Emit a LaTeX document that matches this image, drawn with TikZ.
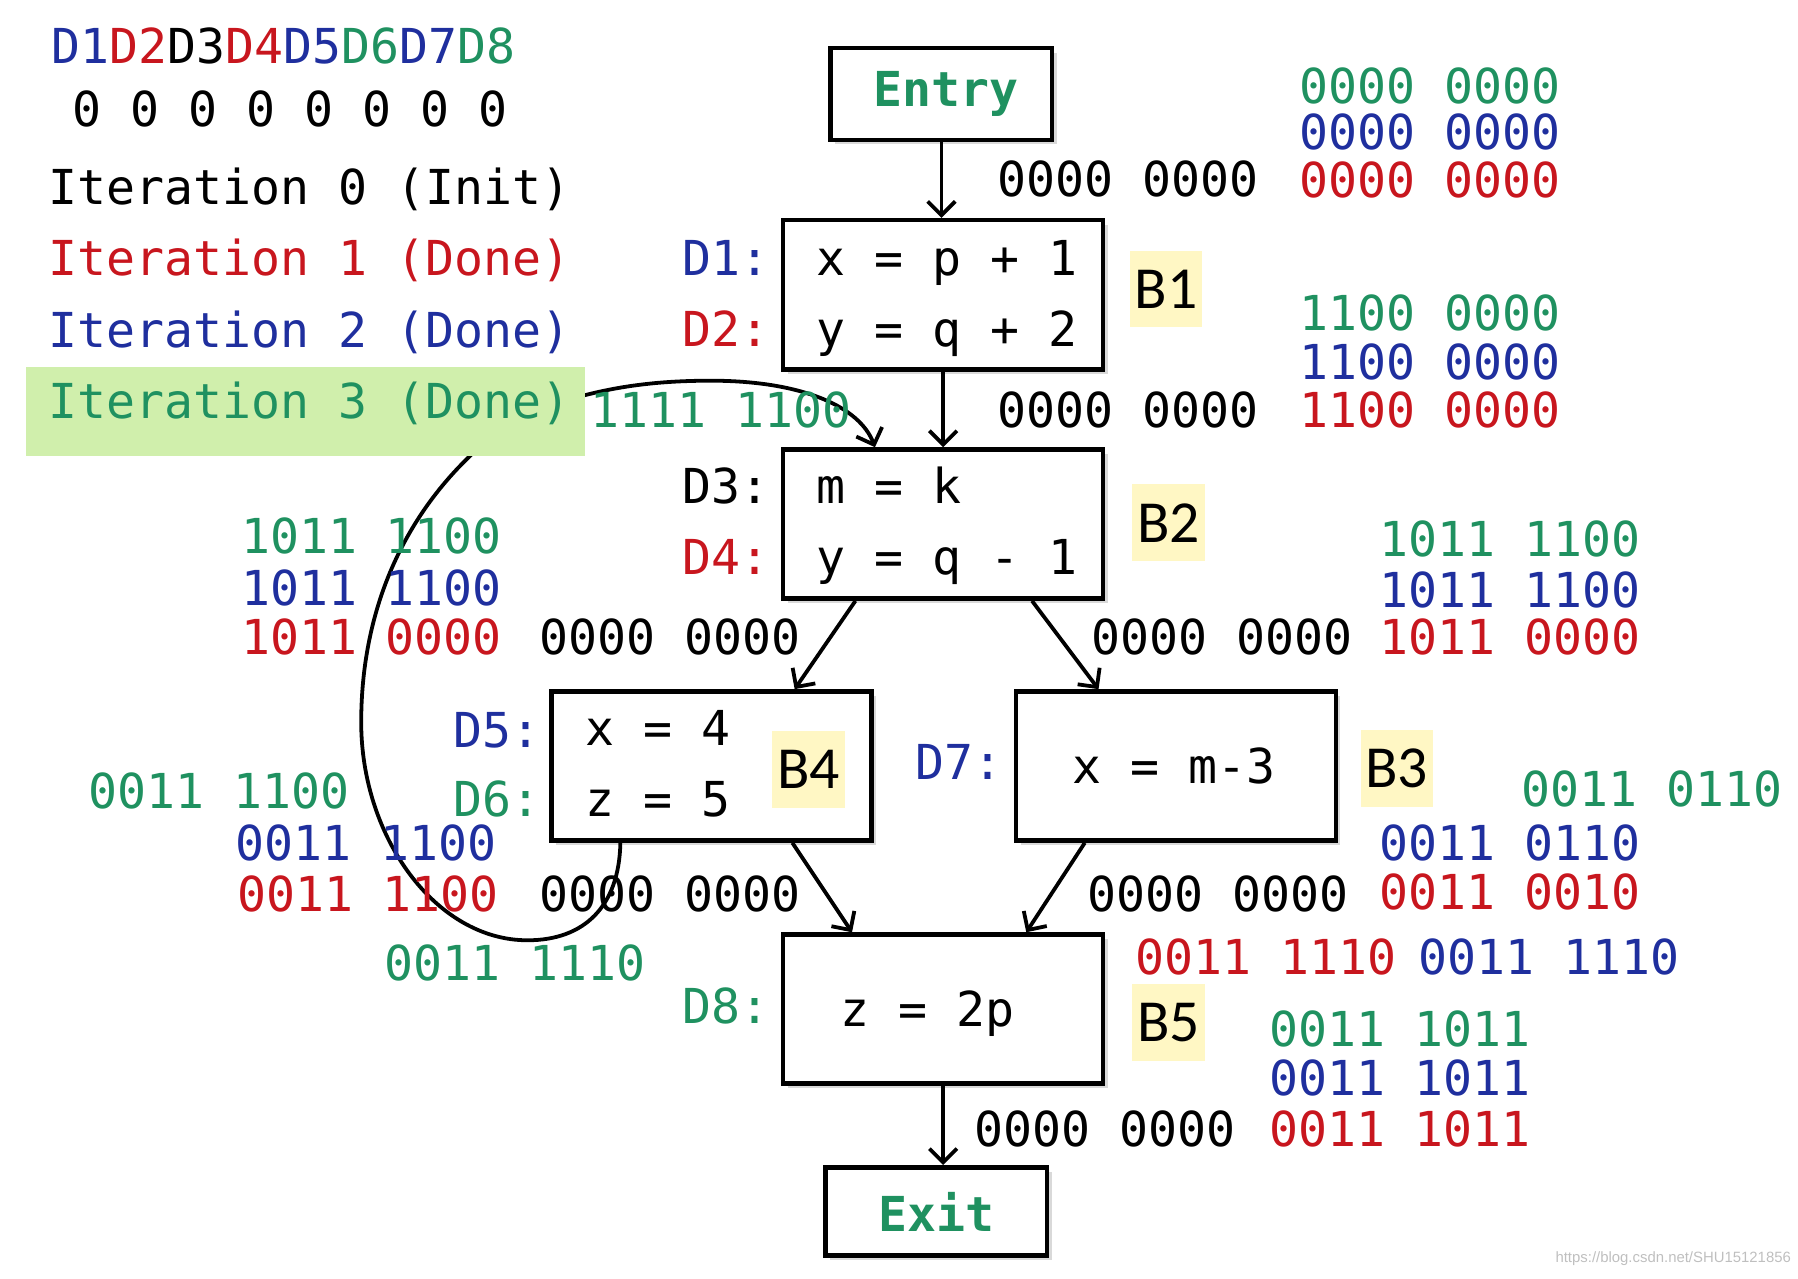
\documentclass[tikz,border=0pt]{standalone}
\usepackage{fontspec}
\newfontfamily\monof{DejaVu Sans Mono}
\newfontfamily\labf{Carlito}
\newfontfamily\wmf{Liberation Sans}
\usetikzlibrary{arrows.meta,shadows}
\definecolor{cg}{HTML}{1F9160}
\definecolor{cb}{HTML}{1F2F9E}
\definecolor{cr}{HTML}{C8161E}
\definecolor{hly}{HTML}{FFF7C4}
\definecolor{hlg}{HTML}{D0EFAC}
\begin{document}
\begin{tikzpicture}[x=1pt,y=-1pt,
  t/.style={anchor=west, inner sep=0pt, font=\fontsize{42}{50}\selectfont\monof, text height=30pt, text depth=0pt},
  blk/.style={draw, line width=4pt, fill=white, inner sep=0pt,
     drop shadow={shadow xshift=4pt, shadow yshift=-4pt, opacity=0.3}},
  blab/.style={fill=hly, inner sep=0pt, minimum width=63pt, minimum height=67pt,
     font=\fontsize{52}{60}\selectfont\labf},
  arr/.style={line width=3.3pt, -{Straight Barb[length=12pt,width=24pt]}}]
\useasboundingbox (0,0) rectangle (1568,1115);

% boxes
\node[blk, minimum width=193pt, minimum height=80pt] (Entry) at (821,82) {};
\node[blk, minimum width=279pt, minimum height=130pt] (B1) at (822.5,257) {};
\node[blk, minimum width=279pt, minimum height=130pt] (B2) at (822.5,457) {};
\node[blk, minimum width=279pt, minimum height=130pt] (B4) at (620.5,668) {};
\node[blk, minimum width=279pt, minimum height=130pt] (B3) at (1025.5,668) {};
\node[blk, minimum width=279pt, minimum height=130pt] (B5) at (822.5,880) {};
\node[blk, minimum width=193pt, minimum height=77pt] (Exit) at (816.5,1056.5) {};

% back edge (drawn before the legend box that hides part of it)
\draw[arr] ([xshift=62pt]B4.south west) .. controls (540,790) and (510,820) .. (460,820)
  .. controls (380,820) and (315,730) .. (315,630)
  .. controls (315,510) and (370,420) .. (450,365)
  .. controls (510,340) and (560,332) .. (620,332)
  .. controls (700,332) and (750,355) .. ([xshift=82pt]B2.north west);

% legend
\node[t] (dl) at (45,40) {{\color{cb}D1}{\color{cr}D2}D3{\color{cr}D4}{\color{cb}D5}{\color{cg}D6}{\color{cb}D7}{\color{cg}D8}};
\node[t] (z0) at (63,95) {0 0 0 0 0 0 0 0};
\node[t] (it0) at (42,163) {Iteration 0 (Init)};
\node[t, text=cr] (it1) at (42,225) {Iteration 1 (Done)};
\node[t, text=cb] (it2) at (42,288) {Iteration 2 (Done)};
\fill[hlg] (23,320) rectangle (510,398);
\node[t, text=cg] (it3) at (42,350) {Iteration 3 (Done)};

% box texts
\node[font=\fontsize{42}{50}\selectfont\monof\bfseries, text=cg] (en) at ([xshift=4pt]Entry) {Entry};
\node[font=\fontsize{42}{50}\selectfont\monof\bfseries, text=cg] (ex) at (Exit) {Exit};
\node[t] (s1) at (712,225) {x = p + 1};
\node[t] (s2) at (712,287) {y = q + 2};
\node[t] (s3) at (712,424) {m = k};
\node[t] (s4) at (712,486) {y = q - 1};
\node[t] (s5) at (510,635) {x = 4};
\node[t] (s6) at (510,697) {z = 5};
\node[t] (s7) at (935,668) {x = m-3};
\node[t] (s8) at (733,880) {z = 2p};

% D labels
\node[t, text=cb] (d1) at (595,225) {D1:};
\node[t, text=cr] (d2) at (595,287) {D2:};
\node[t] (d3) at (595,424) {D3:};
\node[t, text=cr] (d4) at (595,486) {D4:};
\node[t, text=cb] (d5) at (395,637) {D5:};
\node[t, text=cg] (d6) at (395,697) {D6:};
\node[t, text=cb] (d7) at (798,665) {D7:};
\node[t, text=cg] (d8) at (595,878) {D8:};

% B labels
\node[blab] (lb1) at (1017,252) {B1};
\node[blab] (lb2) at (1019,456) {B2};
\node[blab] (lb4) at (705,671) {B4};
\node[blab] (lb3) at (1218,670) {B3};
\node[blab] (lb5) at (1019,892) {B5};

% edges
\draw[arr] (Entry) -- (Entry|-B1.north);
\draw[arr] (B1) -- (B1|-B2.north);
\draw[arr] ([xshift=65pt]B2.south west) -- ([xshift=214pt]B4.north west);
\draw[arr] ([xshift=219pt]B2.south west) -- ([xshift=74pt]B3.north west);
\draw[arr] ([xshift=212pt]B4.south west) -- ([xshift=62pt]B5.north west);
\draw[arr] ([xshift=62pt]B3.south west) -- ([xshift=214pt]B5.north west);
\draw[arr] (B5) -- (B5|-Exit.north);

% black sets
\node[t] (k1) at (870,156) {0000 0000};
\node[t] (k2) at (870,358) {0000 0000};
\node[t] (k3) at (470,556) {0000 0000};
\node[t] (k4) at (952,556) {0000 0000};
\node[t] (k5) at (470,780) {0000 0000};
\node[t] (k6) at (948,780) {0000 0000};
\node[t] (k7) at (850,985) {0000 0000};

% coloured sets
\node[t, text=cg] (a1) at (1133,75) {0000 0000};
\node[t, text=cb] (a2) at (1133,115) {0000 0000};
\node[t, text=cr] (a3) at (1133,157) {0000 0000};

\node[t, text=cg] (b1) at (1133,273) {1100 0000};
\node[t, text=cb] (b2) at (1133,316) {1100 0000};
\node[t, text=cr] (b3) at (1133,358) {1100 0000};

\node[t, text=cg] (c0) at (515,358) {1111 1100};

\node[t, text=cg] (c1) at (210,468) {1011 1100};
\node[t, text=cb] (c2) at (210,513) {1011 1100};
\node[t, text=cr] (c3) at (210,556) {1011 0000};

\node[t, text=cg] (e1) at (1203,470) {1011 1100};
\node[t, text=cb] (e2) at (1203,515) {1011 1100};
\node[t, text=cr] (e3) at (1203,556) {1011 0000};

\node[t, text=cg] (f1) at (77,690) {0011 1100};
\node[t, text=cb] (f2) at (205,735) {0011 1100};
\node[t, text=cr] (f3) at (207,780) {0011 1100};
\node[t, text=cg] (f4) at (335,840) {0011 1110};

\node[t, text=cg] (g1) at (1327,688) {0011 0110};
\node[t, text=cb] (g2) at (1203,735) {0011 0110};
\node[t, text=cr] (g3) at (1203,778) {0011 0010};

\node[t, text=cr] (h1) at (990,835) {0011 1110};
\node[t, text=cb] (h2) at (1237,835) {0011 1110};
\node[t, text=cg] (h3) at (1107,898) {0011 1011};
\node[t, text=cb] (h4) at (1107,940) {0011 1011};
\node[t, text=cr] (h5) at (1107,985) {0011 1011};

\node[anchor=east, inner sep=0pt, text=black!25, font=\fontsize{13}{15}\selectfont\wmf] (wm) at (1562,1098) {https://blog.csdn.net/SHU15121856};
\end{tikzpicture}
\end{document}
